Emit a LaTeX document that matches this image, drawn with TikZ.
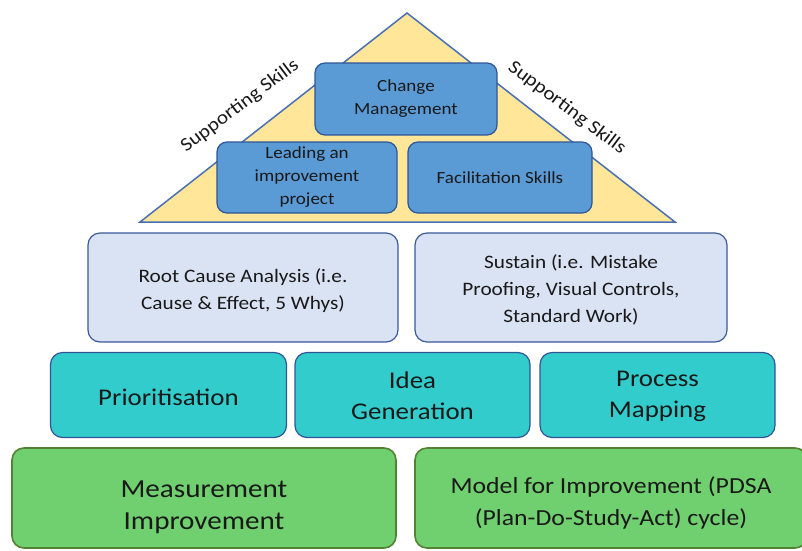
\documentclass[tikz,border=0pt]{standalone}
\usepackage{fontspec}
\setmainfont[FakeStretch=1.12]{Carlito}
\definecolor{pyrfill}{HTML}{FFE699}
\definecolor{pyrline}{HTML}{4A6FB5}
\definecolor{skillfill}{HTML}{5B9BD5}
\definecolor{skillline}{HTML}{2F5597}
\definecolor{palefill}{HTML}{DAE3F3}
\definecolor{paleline}{HTML}{3A5A9A}
\definecolor{tealfill}{HTML}{33CCCC}
\definecolor{tealline}{HTML}{2F5597}
\definecolor{greenfill}{HTML}{70CF6E}
\definecolor{greenline}{HTML}{548235}
\tikzset{
  box/.style={draw, line width=1.2pt, rounded corners=12pt, align=center, text=black!90, inner sep=2pt},
  skillbox/.style={box, fill=skillfill, draw=skillline, rounded corners=10pt, font=\fontsize{17}{23}\selectfont},
  palebox/.style={box, fill=palefill, draw=paleline},
  tealbox/.style={box, fill=tealfill, draw=tealline},
  greenbox/.style={box, fill=greenfill, draw=greenline, line width=1.6pt},
  boxtext/.style={align=center, text=black!90, inner sep=2pt},
  paletext/.style={boxtext, font=\fontsize{19}{27}\selectfont},
  tealtext/.style={boxtext, font=\fontsize{24}{31}\selectfont},
  greentext/.style={boxtext, font=\fontsize{26}{32}\selectfont},
  modeltext/.style={boxtext, font=\fontsize{23}{32}\selectfont},
  sidelabel/.style={font=\fontsize{19}{21}\selectfont, text=black!90}
}
\begin{document}
\begin{tikzpicture}[x=1pt,y=-1pt]
\useasboundingbox (0,0) rectangle (802,550);
% pyramid of supporting skills
\draw[fill=pyrfill, draw=pyrline, line width=1.5pt] (140,222) -- (407,13) -- (675,222) -- cycle;
\node[sidelabel, rotate=37] (lsup) at (240,106) {Supporting Skills};
\node[sidelabel, rotate=-37] (rsup) at (567,108) {Supporting Skills};
% skill boxes inside the pyramid
\node[skillbox, minimum width=182pt, minimum height=72pt] (change) at (406,99) {Change\\Management};
\node[skillbox, minimum width=180pt, minimum height=71pt] (lead) at (307,177.5) {Leading an\\improvement\\project};
\node[skillbox, minimum width=184pt, minimum height=71pt] (facil) at (500,177.5) {Facilitation Skills};
% analysis tools
\node[palebox, minimum width=310pt, minimum height=109pt] (rca) at (243,287.5) {};
\node[paletext] (rcatext) at ([yshift=-3pt]rca.center) {Root Cause Analysis (i.e.\\Cause \& Effect, 5 Whys)};
\node[palebox, minimum width=312pt, minimum height=109pt] (sustain) at (571,287.5) {};
\node[paletext] (sustaintext) at ([yshift=-2pt]sustain.center) {Sustain (i.e. Mistake\\Proofing, Visual Controls,\\Standard Work)};
% core tools
\node[tealbox, minimum width=236pt, minimum height=85pt] (prio) at (168.5,395) {};
\node[tealtext] (priotext) at ([yshift=-2pt]prio.center) {Prioritisation};
\node[tealbox, minimum width=235pt, minimum height=85pt] (idea) at (412.5,395) {};
\node[tealtext] (ideatext) at ([yshift=-1pt]idea.center) {Idea\\Generation};
\node[tealbox, minimum width=235pt, minimum height=85pt] (proc) at (657.5,395) {};
\node[tealtext] (proctext) at ([yshift=-1pt]proc.center) {Process\\Mapping};
% foundations
\node[greenbox, minimum width=384pt, minimum height=100pt] (meas) at (204,498) {};
\node[greentext] (meastext) at ([yshift=-9pt]meas.center) {Measurement\\Improvement};
\node[greenbox, minimum width=392pt, minimum height=100pt] (model) at (611,498) {};
\node[modeltext] (modeltxt) at ([yshift=-5pt]model.center) {Model for Improvement (PDSA\\(Plan-Do-Study-Act) cycle)};
\end{tikzpicture}
\end{document}
